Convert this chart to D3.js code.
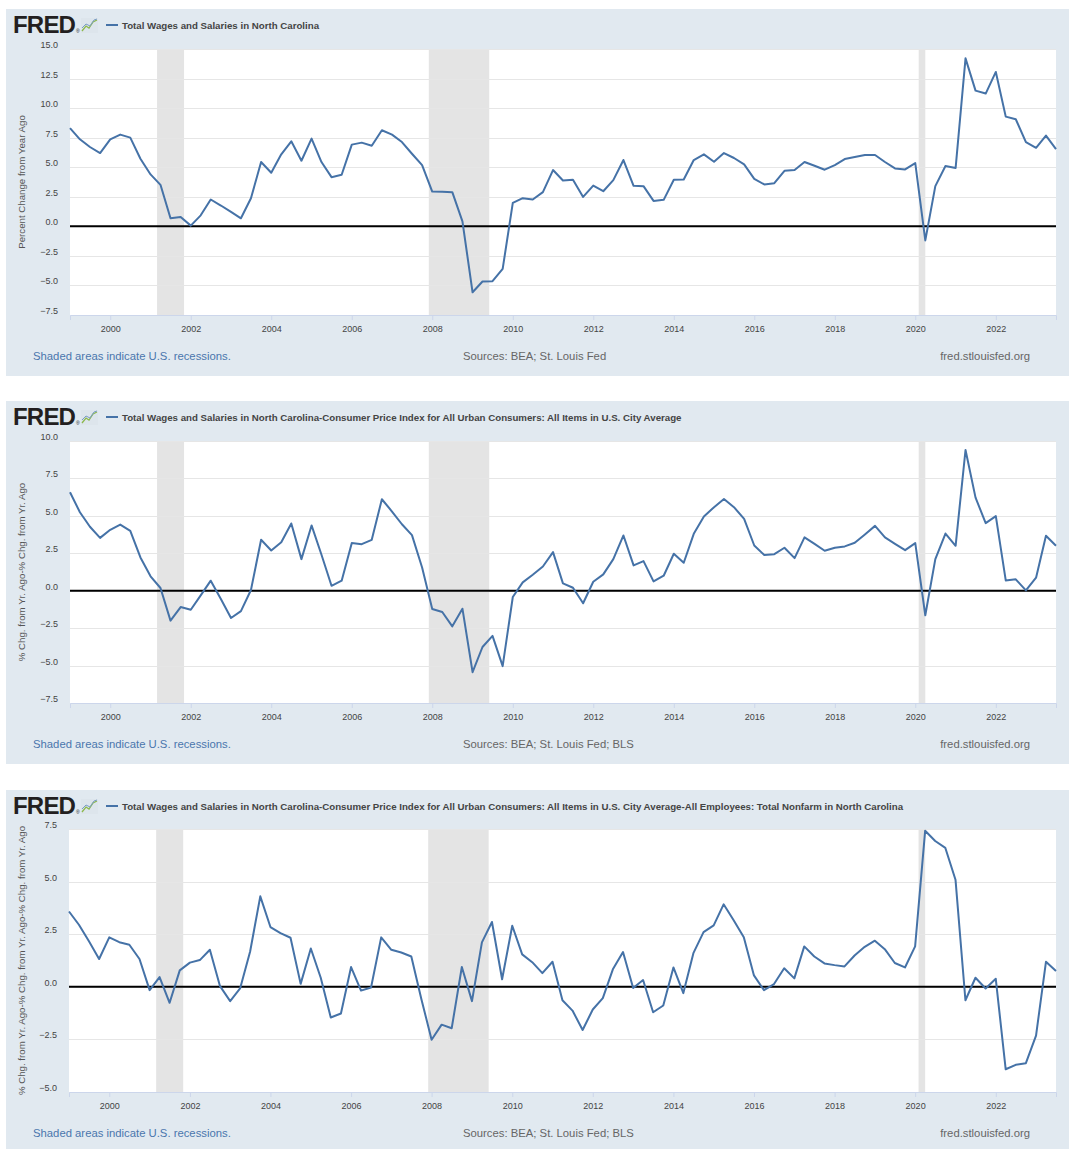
<!DOCTYPE html>
<html>
<head>
<meta charset="utf-8">
<script src="https://cdn.jsdelivr.net/npm/d3@7"></script>
<style>
  body { margin: 0; background: #fff; }
  svg text { font-family: "Liberation Sans", Arial, sans-serif; }
</style>
</head>
<body>
<div id="chart"></div>
<script>
// quarterly observations, 1999 Q1 .. 2023 Q3
var startYear = 1999;

var wages = [8.30, 7.36, 6.71, 6.20, 7.36, 7.76, 7.50, 5.72, 4.39, 3.51,
  0.68, 0.79, 0.06, 0.93, 2.27, 1.76, 1.22, 0.68, 2.38, 5.44,
  4.53, 6.09, 7.19, 5.55, 7.42, 5.44, 4.16, 4.36, 6.91, 7.08,
  6.82, 8.13, 7.76, 7.13, 6.14, 5.18, 2.94, 2.92, 2.89, 0.42,
  -5.58, -4.67, -4.64, -3.60, 1.98, 2.38, 2.27, 2.89, 4.76, 3.88,
  3.94, 2.49, 3.45, 2.97, 3.91, 5.61, 3.43, 3.40, 2.15, 2.24,
  3.94, 3.96, 5.61, 6.09, 5.46, 6.20, 5.78, 5.24, 4.02, 3.54,
  3.65, 4.70, 4.76, 5.44, 5.12, 4.79, 5.18, 5.69, 5.86, 6.03,
  6.03, 5.44, 4.90, 4.81, 5.35, -1.19, 3.40, 5.10, 4.93, 14.21,
  11.48, 11.23, 13.06, 9.28, 9.06, 7.12, 6.64, 7.68, 6.53];

var wagesLessCpi = [6.58, 5.24, 4.27, 3.53, 4.07, 4.42, 4.00, 2.22, 0.96, 0.18,
  -2.00, -1.09, -1.27, -0.31, 0.67, -0.56, -1.82, -1.36, 0.05, 3.40,
  2.69, 3.24, 4.49, 2.11, 4.36, 2.40, 0.33, 0.67, 3.18, 3.11,
  3.40, 6.11, 5.29, 4.44, 3.71, 1.55, -1.22, -1.42, -2.38, -1.20,
  -5.44, -3.76, -3.02, -5.04, -0.42, 0.56, 1.07, 1.62, 2.58, 0.49,
  0.20, -0.84, 0.60, 1.09, 2.11, 3.69, 1.69, 1.98, 0.62, 1.00,
  2.47, 1.87, 3.80, 4.96, 5.58, 6.13, 5.58, 4.80, 3.02, 2.38,
  2.44, 2.87, 2.18, 3.56, 3.13, 2.67, 2.87, 2.96, 3.20, 3.76,
  4.33, 3.56, 3.13, 2.71, 3.18, -1.64, 2.11, 3.82, 3.00, 9.40,
  6.22, 4.51, 4.98, 0.69, 0.76, 0.02, 0.87, 3.67, 3.00];

var wagesLessCpiLessJobs = [3.58, 2.95, 2.16, 1.32, 2.35, 2.12, 2.00, 1.32, -0.16, 0.46,
  -0.76, 0.78, 1.15, 1.27, 1.76, 0.03, -0.68, -0.08, 1.68, 4.30,
  2.84, 2.55, 2.33, 0.14, 1.82, 0.43, -1.46, -1.27, 0.94, -0.18,
  -0.03, 2.35, 1.76, 1.63, 1.44, -0.60, -2.52, -1.80, -1.97, 0.94,
  -0.68, 2.11, 3.08, 0.36, 2.90, 1.54, 1.17, 0.65, 1.19, -0.64,
  -1.13, -2.05, -1.08, -0.54, 0.83, 1.65, -0.06, 0.32, -1.21, -0.89,
  0.92, -0.30, 1.60, 2.60, 2.92, 3.92, 3.16, 2.35, 0.54, -0.16,
  0.13, 0.88, 0.40, 1.92, 1.44, 1.11, 1.03, 0.97, 1.49, 1.90,
  2.19, 1.79, 1.13, 0.92, 1.92, 7.42, 6.93, 6.60, 5.09, -0.64,
  0.43, -0.08, 0.38, -3.92, -3.71, -3.63, -2.32, 1.19, 0.75];

var yearTicks = [2000, 2002, 2004, 2006, 2008, 2010, 2012, 2014, 2016, 2018, 2020, 2022];

var recessions = [["2001-03-01", "2001-11-01"], ["2007-12-01", "2009-06-01"], ["2020-02-01", "2020-04-01"]];

var ticks1 = [-7.5, -5, -2.5, 0, 2.5, 5, 7.5, 10, 12.5, 15];
var ticks2 = [-7.5, -5, -2.5, 0, 2.5, 5, 7.5, 10];
var ticks3 = [-5, -2.5, 0, 2.5, 5, 7.5];

var titles = [
  "Total Wages and Salaries in North Carolina",
  "Total Wages and Salaries in North Carolina-Consumer Price Index for All Urban Consumers: All Items in U.S. City Average",
  "Total Wages and Salaries in North Carolina-Consumer Price Index for All Urban Consumers: All Items in U.S. City Average-All Employees: Total Nonfarm in North Carolina"
];
var yTitles = [
  "Percent Change from Year Ago",
  "% Chg. from Yr. Ago-% Chg. from Yr. Ago",
  "% Chg. from Yr. Ago-% Chg. from Yr. Ago-% Chg. from Yr. Ago"
];
var sources = ["Sources: BEA; St. Louis Fed", "Sources: BEA; St. Louis Fed; BLS", "Sources: BEA; St. Louis Fed; BLS"];

var svgWidth = 1069;
var svgHeight = 1149;

var svg = d3.select("#chart")
  .append("svg")
  .attr("width", svgWidth)
  .attr("height", svgHeight);

var parseDate = d3.timeParse("%Y-%m-%d");

// panel layout (page pixels)
var panels = [
  {top: 9, bottom: 376, plotTop: 49, plotBottom: 315, left: 70, ticks: ticks1, values: wages},
  {top: 401, bottom: 764, plotTop: 441, plotBottom: 703, left: 70, ticks: ticks2, values: wagesLessCpi},
  {top: 790, bottom: 1149, plotTop: 829, plotBottom: 1092, left: 69, ticks: ticks3, values: wagesLessCpiLessJobs}
];

panels.forEach(function(p, k) {
  p.title = titles[k];
  p.yTitle = yTitles[k];
  p.source = sources[k];
  drawPanel(p);
});

function drawPanel(p) {
  var right = 1056;
  var g = svg.append("g");

  g.append("rect")
    .attr("x", 6).attr("y", p.top)
    .attr("width", svgWidth - 6).attr("height", p.bottom - p.top)
    .attr("fill", "#e1e9f0");

  var data = p.values.map(function(v, i) {
    return {date: new Date(startYear, i * 3, 1), value: v};
  });

  var xScale = d3.scaleTime()
    .domain([new Date(startYear, 0, 1), data[data.length - 1].date])
    .range([p.left, right]);

  var yScale = d3.scaleLinear()
    .domain([d3.min(p.ticks), d3.max(p.ticks)])
    .range([p.plotBottom, p.plotTop]);

  // plot background
  g.append("rect")
    .attr("x", p.left).attr("y", p.plotTop)
    .attr("width", right - p.left).attr("height", p.plotBottom - p.plotTop)
    .attr("fill", "#fff");

  // recession bars
  g.selectAll("rect.rec")
    .data(recessions)
    .enter()
    .append("rect")
    .attr("class", "rec")
    .attr("x", d => xScale(parseDate(d[0])))
    .attr("width", d => xScale(parseDate(d[1])) - xScale(parseDate(d[0])))
    .attr("y", p.plotTop)
    .attr("height", p.plotBottom - p.plotTop)
    .attr("fill", "#e4e4e4");

  // gridlines
  g.selectAll("line.grid")
    .data(p.ticks.slice(1))
    .enter()
    .append("line")
    .attr("class", "grid")
    .attr("x1", p.left).attr("x2", right)
    .attr("y1", d => Math.round(yScale(d)) + 0.5)
    .attr("y2", d => Math.round(yScale(d)) + 0.5)
    .attr("stroke", "#e6e6e6");

  // y labels
  g.selectAll("text.ylab")
    .data(p.ticks)
    .enter()
    .append("text")
    .attr("class", "ylab")
    .attr("x", p.left - 12)
    .attr("y", d => yScale(d) - 1)
    .attr("text-anchor", "end")
    .attr("font-size", "9px")
    .attr("fill", "#444")
    .text(d => d3.format(".1f")(d));

  // x axis
  var bottomAxis = d3.axisBottom(xScale)
    .tickValues(yearTicks.map(y => new Date(y, 0, 1)))
    .tickFormat(d3.timeFormat("%Y"))
    .tickSize(5)
    .tickPadding(6);

  var xAxis = g.append("g")
    .attr("transform", `translate(0, ${p.plotBottom})`)
    .call(bottomAxis);
  xAxis.select(".domain").attr("stroke", "#ccd6eb");
  xAxis.selectAll(".tick line").attr("stroke", "#ccd6eb");
  xAxis.selectAll(".tick text")
    .attr("fill", "#444")
    .style("font-size", "9px")
    .style("font-family", "'Liberation Sans', Arial, sans-serif");

  // zero line
  g.append("line")
    .attr("x1", p.left).attr("x2", right)
    .attr("y1", yScale(0)).attr("y2", yScale(0))
    .attr("stroke", "#000")
    .attr("stroke-width", 2);

  // series
  var line = d3.line()
    .x(d => xScale(d.date))
    .y(d => yScale(d.value));

  g.append("path")
    .datum(data)
    .attr("d", line)
    .attr("fill", "none")
    .attr("stroke", "#4572a7")
    .attr("stroke-width", 2)
    .attr("stroke-linejoin", "round");

  // y axis title
  g.append("text")
    .attr("transform", `translate(25, ${(p.plotTop + p.plotBottom) / 2}) rotate(-90)`)
    .attr("text-anchor", "middle")
    .attr("font-size", "9.7px")
    .attr("fill", "#555")
    .text(p.yTitle);

  // logo
  var logo = g.append("g").attr("transform", `translate(0, ${p.top})`);
  logo.append("text")
    .attr("x", 13).attr("y", 24)
    .attr("font-size", "24px")
    .attr("font-weight", "bold")
    .attr("letter-spacing", "-0.8")
    .attr("fill", "#231f20")
    .text("FRED");
  logo.append("text")
    .attr("x", 76).attr("y", 24)
    .attr("font-size", "5px")
    .attr("fill", "#231f20")
    .text("®");
  logo.append("rect")
    .attr("x", 81).attr("y", 9).attr("width", 17).attr("height", 15)
    .attr("fill", "#dde5ec");
  logo.append("path")
    .attr("d", "M82,22 L86,17 L89,19 L93,13 L97,11")
    .attr("fill", "none").attr("stroke", "#8cb84c").attr("stroke-width", 1.3);
  logo.append("path")
    .attr("d", "M82,19 L86,15 L90,17 L94,11 L97,10")
    .attr("fill", "none").attr("stroke", "#7a9cc6").attr("stroke-width", 1);

  // legend
  logo.append("line")
    .attr("x1", 106).attr("x2", 118)
    .attr("y1", 16).attr("y2", 16)
    .attr("stroke", "#4572a7").attr("stroke-width", 2);
  logo.append("text")
    .attr("x", 122).attr("y", 19.5)
    .attr("font-size", "9.7px")
    .attr("font-weight", "bold")
    .attr("fill", "#444")
    .text(p.title);

  // footer
  var fy = p.plotBottom + 45;
  g.append("text")
    .attr("x", 33).attr("y", fy)
    .attr("font-size", "11.3px")
    .attr("fill", "#4a76ad")
    .text("Shaded areas indicate U.S. recessions.");
  g.append("text")
    .attr("x", 463).attr("y", fy)
    .attr("font-size", "11.3px")
    .attr("fill", "#666")
    .text(p.source);
  g.append("text")
    .attr("x", 1030).attr("y", fy)
    .attr("text-anchor", "end")
    .attr("font-size", "11.3px")
    .attr("fill", "#666")
    .text("fred.stlouisfed.org");
}
</script>
</body>
</html>
